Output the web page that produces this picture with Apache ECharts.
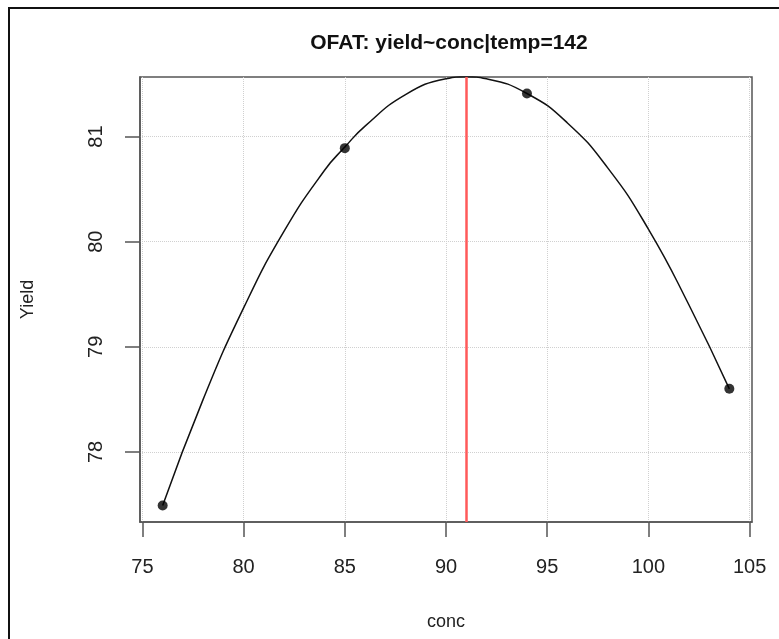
<!DOCTYPE html>
<html>
<head>
<meta charset="utf-8">
<script src="https://cdn.jsdelivr.net/npm/echarts@6/dist/echarts.min.js"></script>
<style>
html, body { margin: 0; padding: 0; background: #fff; }
#main { width: 779px; height: 639px; }
</style>
</head>
<body>
<div id="main"></div>
<script>
// observed runs (conc, yield)
var pointConc = [76, 85, 94, 104];
var pointYield = [77.49, 80.89, 81.41, 78.60];

// fitted curve
var curveConc = [76, 78, 80, 82, 84, 85, 86, 88, 90, 91, 92, 94, 96, 98, 100, 102, 104];
var curveYield = [77.49, 78.50, 79.37, 80.10, 80.68, 80.90, 81.10, 81.40, 81.55, 81.57, 81.55, 81.41, 81.13, 80.70, 80.12, 79.40, 78.60];

// best conc
var peakConc = [91];

var xTicks = [75, 80, 85, 90, 95, 100, 105];
var yTicks = [78, 79, 80, 81];

var myChart = echarts.init(document.getElementById('main'));

var font = 'Liberation Sans, Arial, sans-serif';

var option = {
    backgroundColor: '#fff',
    animation: false,
    title: {
        text: 'OFAT: yield~conc|temp=142',
        left: 444,
        top: 28,
        textAlign: 'center',
        textStyle: { fontFamily: font, fontSize: 21, fontWeight: 'bold', color: '#111' }
    },
    graphic: [{
        type: 'rect',
        shape: { x: 9, y: 8, width: 790, height: 650 },
        style: { fill: 'none', stroke: '#111', lineWidth: 2 },
        silent: true
    }],
    grid: {
        left: 140, right: 27, top: 77, bottom: 117,
        show: true, borderColor: '#555', borderWidth: 1.5
    },
    xAxis: {
        type: 'value',
        min: 74.88, max: 105.12,
        name: 'conc',
        nameLocation: 'middle',
        nameGap: 91,
        nameTextStyle: { fontFamily: font, fontSize: 18, color: '#222' },
        axisLine: { show: true, lineStyle: { color: '#555', width: 1.5 } },
        axisTick: { show: true, inside: false, length: 15, customValues: xTicks, lineStyle: { color: '#555', width: 1.5 } },
        axisLabel: { customValues: xTicks, margin: 35, fontFamily: font, fontSize: 20, color: '#222' },
        splitLine: { show: true, lineStyle: { color: '#d0d0d0', type: 'dotted', width: 1 } }
    },
    yAxis: {
        type: 'value',
        min: 77.333, max: 81.567,
        name: 'Yield',
        nameLocation: 'middle',
        nameGap: 103,
        nameRotate: 90,
        nameTextStyle: { fontFamily: font, fontSize: 18, color: '#222' },
        axisLine: { show: true, lineStyle: { color: '#555', width: 1.5 } },
        axisTick: { show: true, inside: false, length: 15, customValues: yTicks, lineStyle: { color: '#555', width: 1.5 } },
        axisLabel: { customValues: yTicks, rotate: 90, margin: 34, fontFamily: font, fontSize: 20, color: '#222' },
        splitLine: { show: true, lineStyle: { color: '#d0d0d0', type: 'dotted', width: 1 } }
    },
    series: [{
        name: 'fit',
        type: 'line',
        smooth: 0.5,
        showSymbol: false,
        data: curveConc.map(function (c, i) { return [c, curveYield[i]]; }),
        lineStyle: { color: '#111', width: 1.5 },
        markLine: {
            silent: true,
            symbol: 'none',
            label: { show: false },
            lineStyle: { color: '#ff5a5a', type: 'solid', width: 2.5 },
            data: peakConc.map(function (c) { return { xAxis: c }; })
        },
        z: 2
    }, {
        name: 'runs',
        type: 'scatter',
        symbol: 'circle',
        symbolSize: 10,
        itemStyle: { color: '#000' },
        data: pointConc.map(function (c, i) { return [c, pointYield[i]]; }),
        z: 3
    }]
};

myChart.setOption(option);
</script>
</body>
</html>
